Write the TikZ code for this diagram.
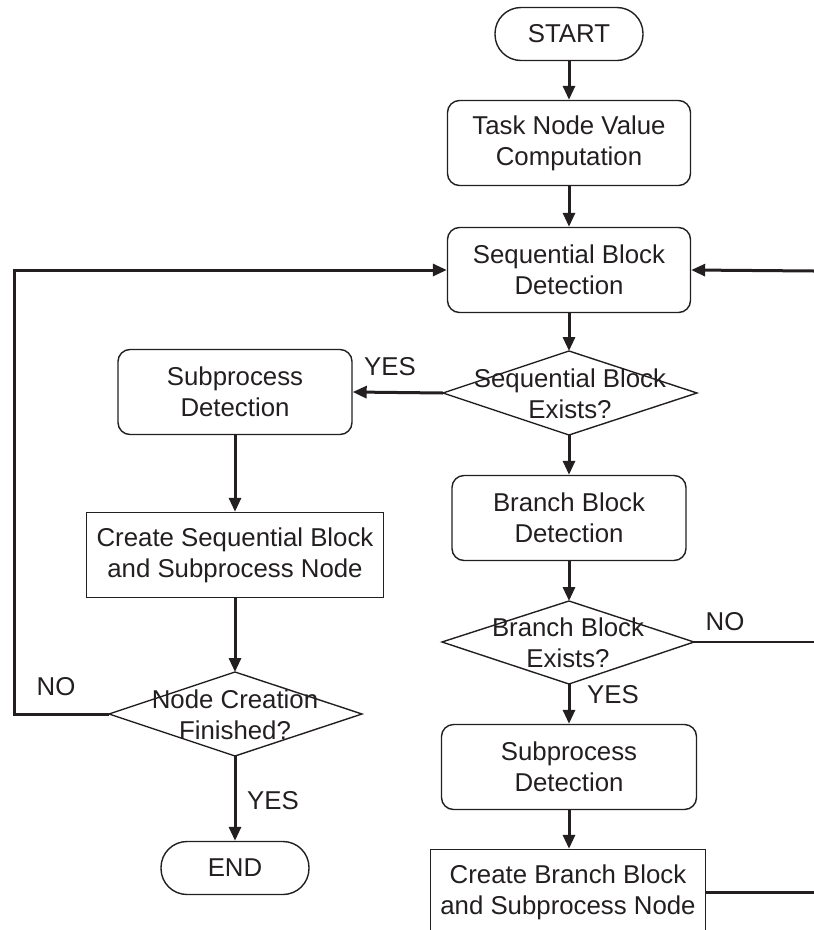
\documentclass[tikz,border=0pt]{standalone}
\usepackage{fontspec}
\setmainfont{Liberation Sans}
\usetikzlibrary{arrows.meta}
\definecolor{ink}{HTML}{231F20}
\begin{document}
\begin{tikzpicture}[x=1pt,y=-1pt,
  every node/.style={text=ink,font=\fontsize{25.8}{31}\selectfont},
  boxline/.style={draw=ink,line width=1.4pt},
  procbox/.style={boxline,rounded corners=12pt,minimum height=85pt,align=center,inner sep=0pt},
  flatbox/.style={boxline,minimum height=85pt,align=center,inner sep=0pt},
  terminal/.style={boxline,rounded corners=26pt,minimum width=148pt,minimum height=53pt,inner sep=0pt},
  txt/.style={align=center,inner sep=0pt},
  flow/.style={draw=ink,line width=3pt,-{Triangle[length=14pt,width=12pt]}},
  plain/.style={draw=ink,line width=3pt},
  thin/.style={draw=ink,line width=1.6pt}]
\useasboundingbox (0,0) rectangle (814,930);

% main column
\node[terminal] (start) at (569,34) {START};
\node[procbox,minimum width=243pt] (task) at (569,143) {Task Node Value\\Computation};
\node[procbox,minimum width=243pt] (seq) at (569,270) {Sequential Block\\Detection};

% decision: sequential block
\draw[boxline] (569,351) coordinate (sd-n) -- (697,393) coordinate (sd-e)
  -- (569,435) coordinate (sd-s) -- (443,393) coordinate (sd-w) -- cycle;
\node[txt] (sdtext) at (570,394) {Sequential Block\\Exists?};

% left branch
\node[procbox,minimum width=234pt] (subl) at (235,392) {Subprocess\\Detection};
\node[flatbox,minimum width=297pt] (cseq) at (235,555) {Create Sequential Block\\and Subprocess Node};
\draw[boxline] (235,672) coordinate (nf-n) -- (362,714) coordinate (nf-e)
  -- (235,756) coordinate (nf-s) -- (109,714) coordinate (nf-w) -- cycle;
\node[txt] (nftext) at (235,715) {Node Creation\\Finished?};
\node[terminal] (end) at (235,868) {END};

% right branch
\node[procbox,minimum width=234pt] (bbd) at (569,518) {Branch Block\\Detection};
\draw[boxline] (569,601) coordinate (bd-n) -- (694,642) coordinate (bd-e)
  -- (569,684) coordinate (bd-s) -- (442,642) coordinate (bd-w) -- cycle;
\node[txt] (bdtext) at (568,643) {Branch Block\\Exists?};
\node[procbox,minimum width=255pt] (subr) at (569,767) {Subprocess\\Detection};
\node[flatbox,minimum width=275pt] (cbr) at (568,892) {Create Branch Block\\and Subprocess Node};

% loop ends at the right border
\coordinate (rtop) at (814,271);
\coordinate (rno) at (814,642);
\coordinate (rbot) at (814,892);
\coordinate (lcorner) at (14,714);

% connectors
\draw[flow] (start.south) -- (task.north);
\draw[flow] (task) -- (seq);
\draw[flow] (seq.south) -- (sd-n);
\draw[flow] (sd-w) -- (subl.east);
\draw[flow] (subl) -- (cseq);
\draw[flow] (cseq.south) -- (nf-n);
\draw[flow] (nf-s) -- (end.north);
\draw[flow] (nf-w) -- (lcorner) |- (seq.west);
\draw[flow] (sd-s) -- (bbd.north);
\draw[flow] (bbd.south) -- (bd-n);
\draw[flow] (bd-s) -- (subr.north);
\draw[flow] (subr.south) -- (subr.south |- cbr.north);
\draw[flow] (rtop) -- (seq.east);
\draw[thin] (bd-e) -- (rno);
\draw[plain] (cbr.east) -- (rbot);

% branch labels
\node[txt] (yes1) at (390,367) {YES};
\node[txt] (no1) at (56,687) {NO};
\node[txt] (yes2) at (273,801) {YES};
\node[txt] (no2) at (725,622) {NO};
\node[txt] (yes3) at (613,695) {YES};
\end{tikzpicture}
\end{document}
